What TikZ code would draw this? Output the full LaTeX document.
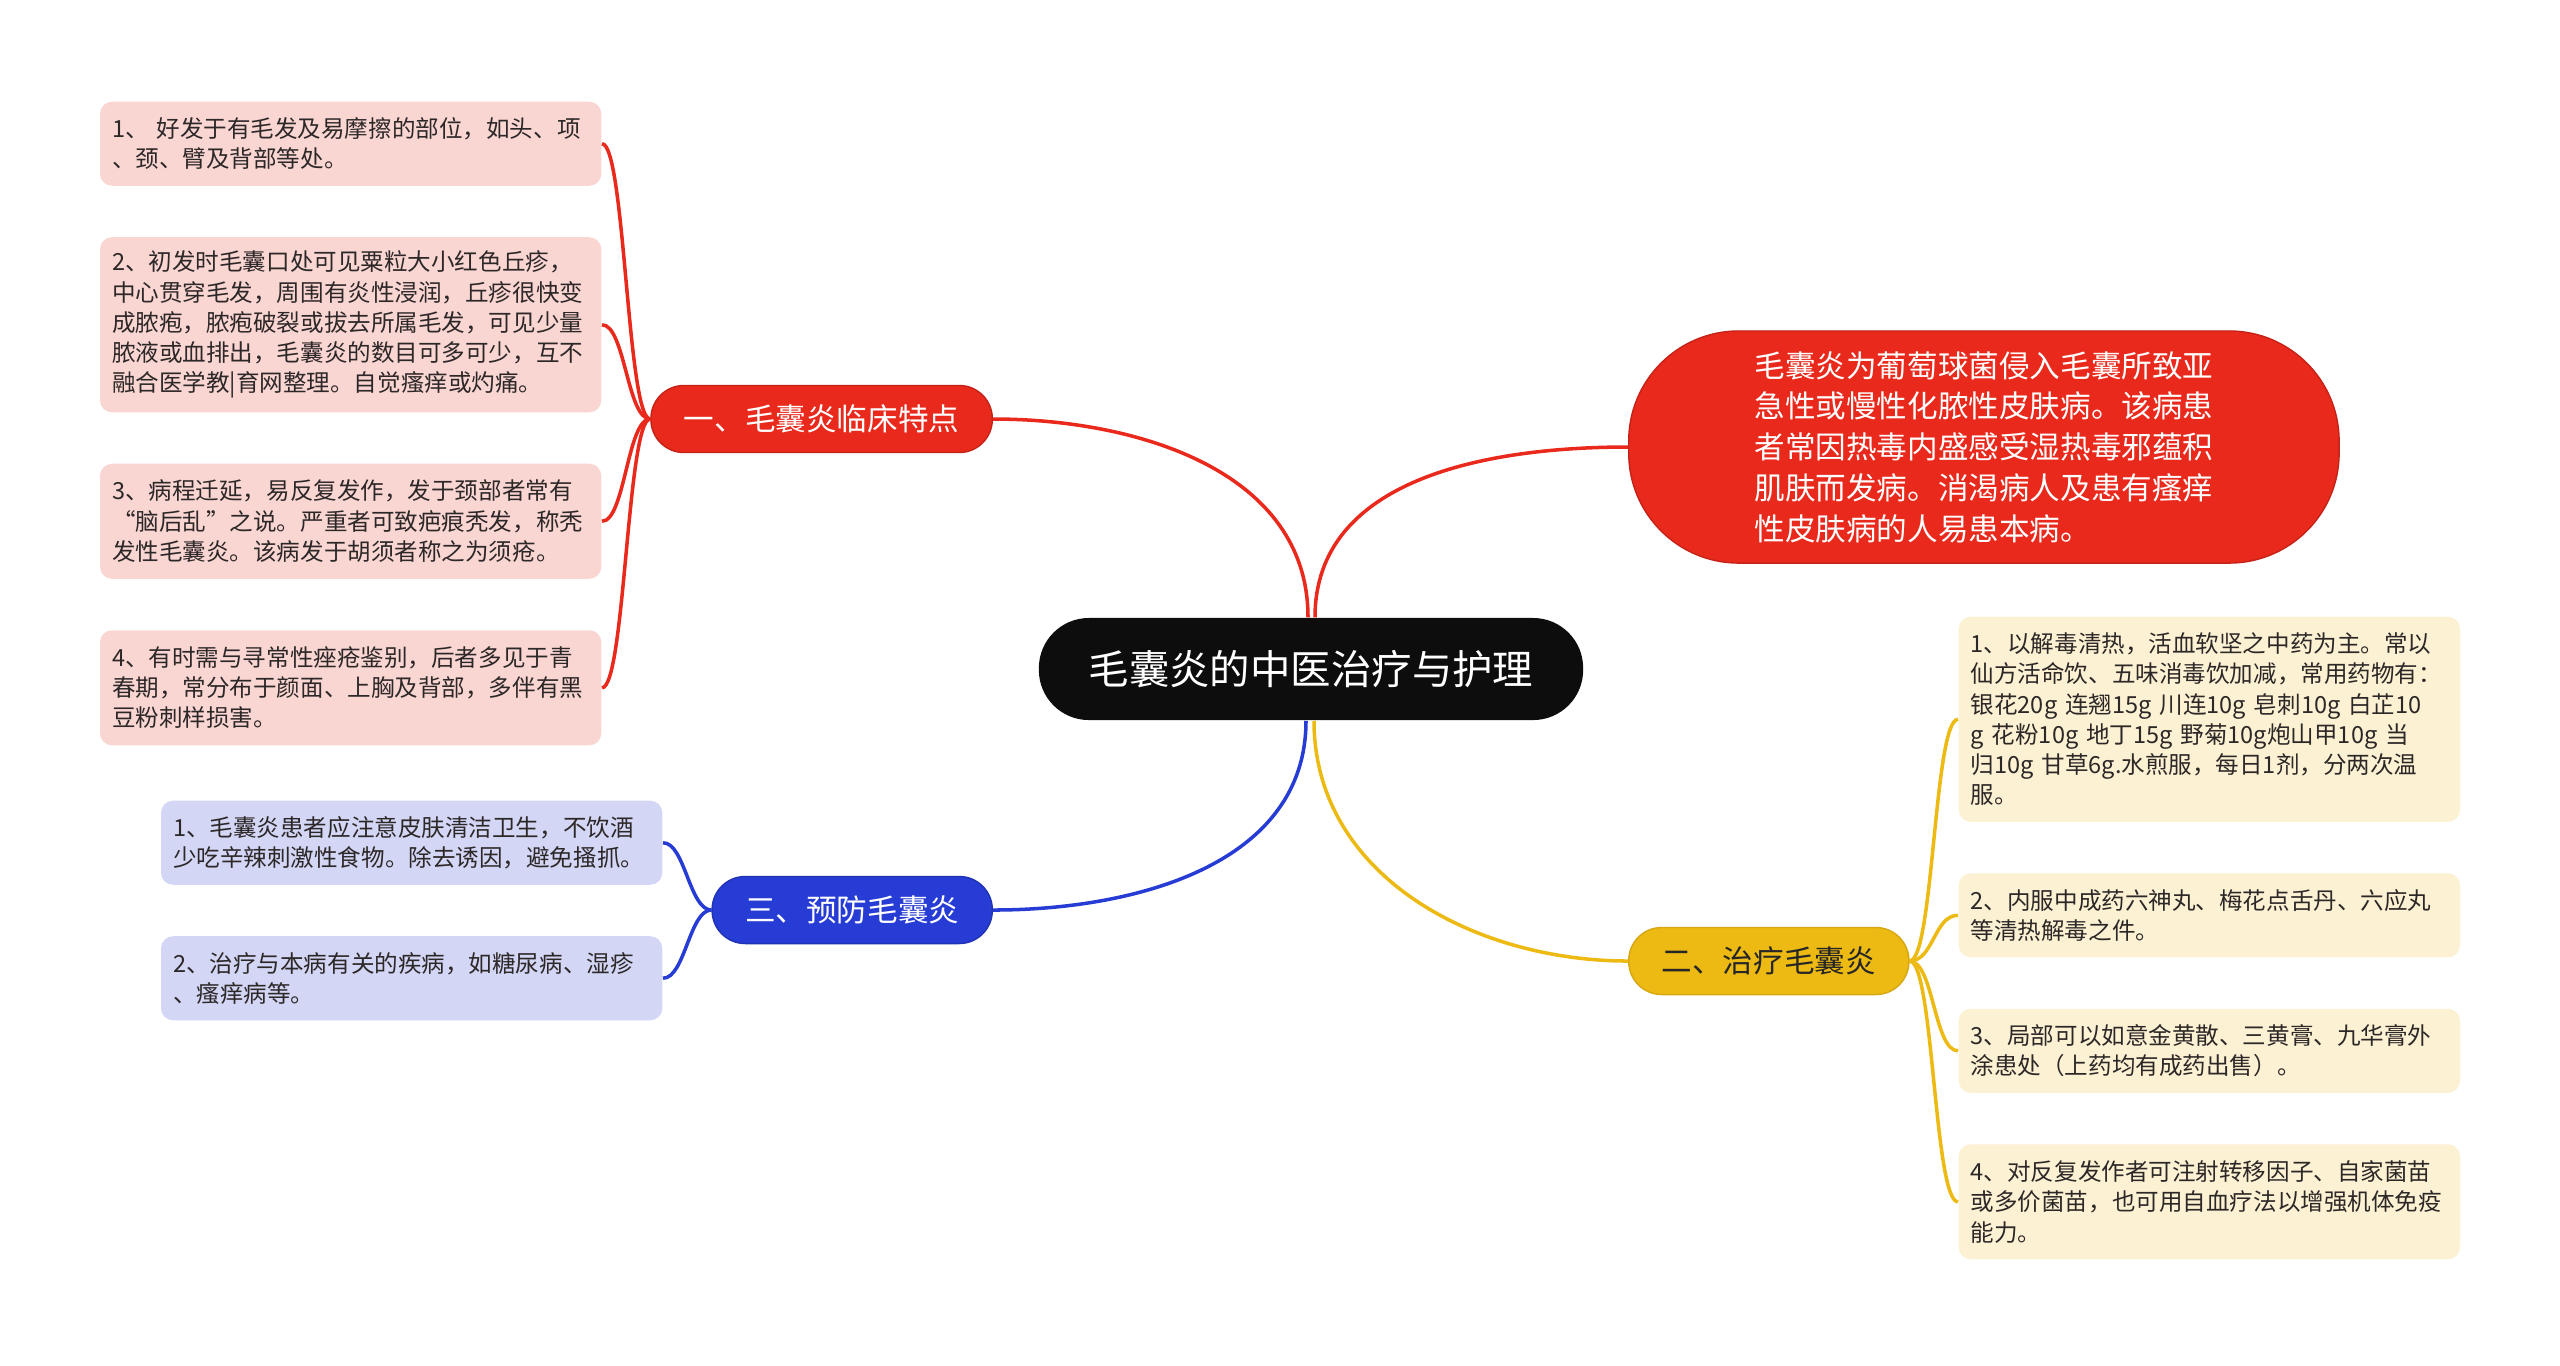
\documentclass[tikz,border=0pt]{standalone}
\usepackage{fontspec}
\setmainfont{Noto Sans CJK SC}
\usepackage{tikz}
\usetikzlibrary{positioning}
\usepackage{xcolor}
\definecolor{mred}{RGB}{232,41,28}
\definecolor{mredl}{RGB}{250,214,211}
\definecolor{mblue}{RGB}{38,60,212}
\definecolor{mbluel}{RGB}{211,214,245}
\definecolor{myel}{RGB}{237,186,20}
\definecolor{myell}{RGB}{252,241,211}
\definecolor{mtext}{RGB}{45,40,40}

\begin{document}
\begin{tikzpicture}[
  x=0.01cm, y=-0.01cm,
  rootbox/.style={fill=black!95, text=white, rounded corners=0.5cm, minimum width=5.44cm, minimum height=1.02cm, font=\fontsize{11.5}{14}\selectfont},
  topic/.style={rounded corners=0.33cm, minimum height=0.67cm, inner xsep=0.33cm, font=\fontsize{8.7}{10}\selectfont},
  leaf/.style={rounded corners=0.12cm, text width=4.77cm, inner xsep=0.12cm, inner ysep=2pt, align=left, text=mtext, font=\fontsize{6.7}{8.6}\selectfont},
  two/.style={minimum height=0.84cm},
  three/.style={minimum height=1.15cm},
  five/.style={minimum height=1.75cm},
  six/.style={minimum height=2.05cm},
  link/.style={line width=1pt}
]
  \fill[white] (0,0) rectangle (2560,1365);

  \node[rootbox] (root) at (1311,669) {毛囊炎的中医治疗与护理};

  \node[topic, fill=mred, draw=mred!85!black, line width=0.4pt, text=white, anchor=east] (clin) at (993,419) {一、毛囊炎临床特点};
  \node[topic, fill=mred, draw=mred!85!black, line width=0.4pt, text=white, anchor=west, minimum width=7.1cm, minimum height=2.32cm, rounded corners=1.1cm, align=left, font=\fontsize{8.7}{11.6}\selectfont] (intro) at (1628,447) {毛囊炎为葡萄球菌侵入毛囊所致亚\\急性或慢性化脓性皮肤病。该病患\\者常因热毒内盛感受湿热毒邪蕴积\\肌肤而发病。消渴病人及患有瘙痒\\性皮肤病的人易患本病。};
  \node[topic, fill=mblue, draw=mblue!85!black, line width=0.4pt, text=white, anchor=east] (prev) at (993,910) {三、预防毛囊炎};
  \node[topic, fill=myel, draw=myel!90!black, line width=0.4pt, text=black!85, anchor=west] (treat) at (1628,961) {二、治疗毛囊炎};

  \node[leaf, two, fill=mredl, anchor=north east] (c1) at (602,101) {1、 好发于有毛发及易摩擦的部位，如头、项\\、颈、臂及背部等处。};
  \node[leaf, five, fill=mredl, below=0.5cm of c1] (c2) {2、初发时毛囊口处可见粟粒大小红色丘疹，\\中心贯穿毛发，周围有炎性浸润，丘疹很快变\\成脓疱，脓疱破裂或拔去所属毛发，可见少量\\脓液或血排出，毛囊炎的数目可多可少，互不\\融合医学教|育网整理。自觉瘙痒或灼痛。};
  \node[leaf, three, fill=mredl, below=0.5cm of c2] (c3) {3、病程迁延，易反复发作，发于颈部者常有\\“脑后乱”之说。严重者可致疤痕秃发，称秃\\发性毛囊炎。该病发于胡须者称之为须疮。};
  \node[leaf, three, fill=mredl, below=0.5cm of c3] (c4) {4、有时需与寻常性痤疮鉴别，后者多见于青\\春期，常分布于颜面、上胸及背部，多伴有黑\\豆粉刺样损害。};

  \node[leaf, two, fill=mbluel, anchor=north east] (p1) at (663,800) {1、毛囊炎患者应注意皮肤清洁卫生，不饮酒\\少吃辛辣刺激性食物。除去诱因，避免搔抓。};
  \node[leaf, two, fill=mbluel, below=0.5cm of p1] (p2) {2、治疗与本病有关的疾病，如糖尿病、湿疹\\、瘙痒病等。};

  \node[leaf, six, fill=myell, anchor=north west] (t1) at (1958,616) {1、以解毒清热，活血软坚之中药为主。常以\\仙方活命饮、五味消毒饮加减，常用药物有：\\银花20g~连翘15g~川连10g~皂刺10g~白芷10\\g~花粉10g~地丁15g~野菊10g炮山甲10g~当\\归10g~甘草6g.水煎服，每日1剂，分两次温\\服。};
  \node[leaf, two, fill=myell, below=0.5cm of t1] (t2) {2、内服中成药六神丸、梅花点舌丹、六应丸\\等清热解毒之件。};
  \node[leaf, two, fill=myell, below=0.5cm of t2] (t3) {3、局部可以如意金黄散、三黄膏、九华膏外\\涂患处（上药均有成药出售）。};
  \node[leaf, three, fill=myell, below=0.5cm of t3] (t4) {4、对反复发作者可注射转移因子、自家菌苗\\或多价菌苗，也可用自血疗法以增强机体免疫\\能力。};

  \draw[link, mred] ([xshift=-0.03cm]root.north) to[out=90, in=0] (clin.east);
  \draw[link, mred] ([xshift=0.04cm]root.north) to[out=90, in=180] (intro.west);
  \draw[link, mblue] ([xshift=-0.05cm]root.south) to[out=-90, in=0] (prev.east);
  \draw[link, myel] ([xshift=0.03cm]root.south) to[out=-90, in=180] (treat.west);

  \draw[link, mred] (clin.west) .. controls +(-23,0) and +(23,0) .. (c1.east);
  \draw[link, mred] (clin.west) .. controls +(-23,0) and +(23,0) .. (c2.east);
  \draw[link, mred] (clin.west) .. controls +(-23,0) and +(23,0) .. (c3.east);
  \draw[link, mred] (clin.west) .. controls +(-23,0) and +(23,0) .. (c4.east);
  \draw[link, mblue] (prev.west) .. controls +(-22,0) and +(22,0) .. (p1.east);
  \draw[link, mblue] (prev.west) .. controls +(-22,0) and +(22,0) .. (p2.east);
  \draw[link, myel] (treat.east) .. controls +(24,0) and +(-24,0) .. (t1.west);
  \draw[link, myel] (treat.east) .. controls +(24,0) and +(-24,0) .. (t2.west);
  \draw[link, myel] (treat.east) .. controls +(24,0) and +(-24,0) .. (t3.west);
  \draw[link, myel] (treat.east) .. controls +(24,0) and +(-24,0) .. (t4.west);
\end{tikzpicture}
\end{document}
